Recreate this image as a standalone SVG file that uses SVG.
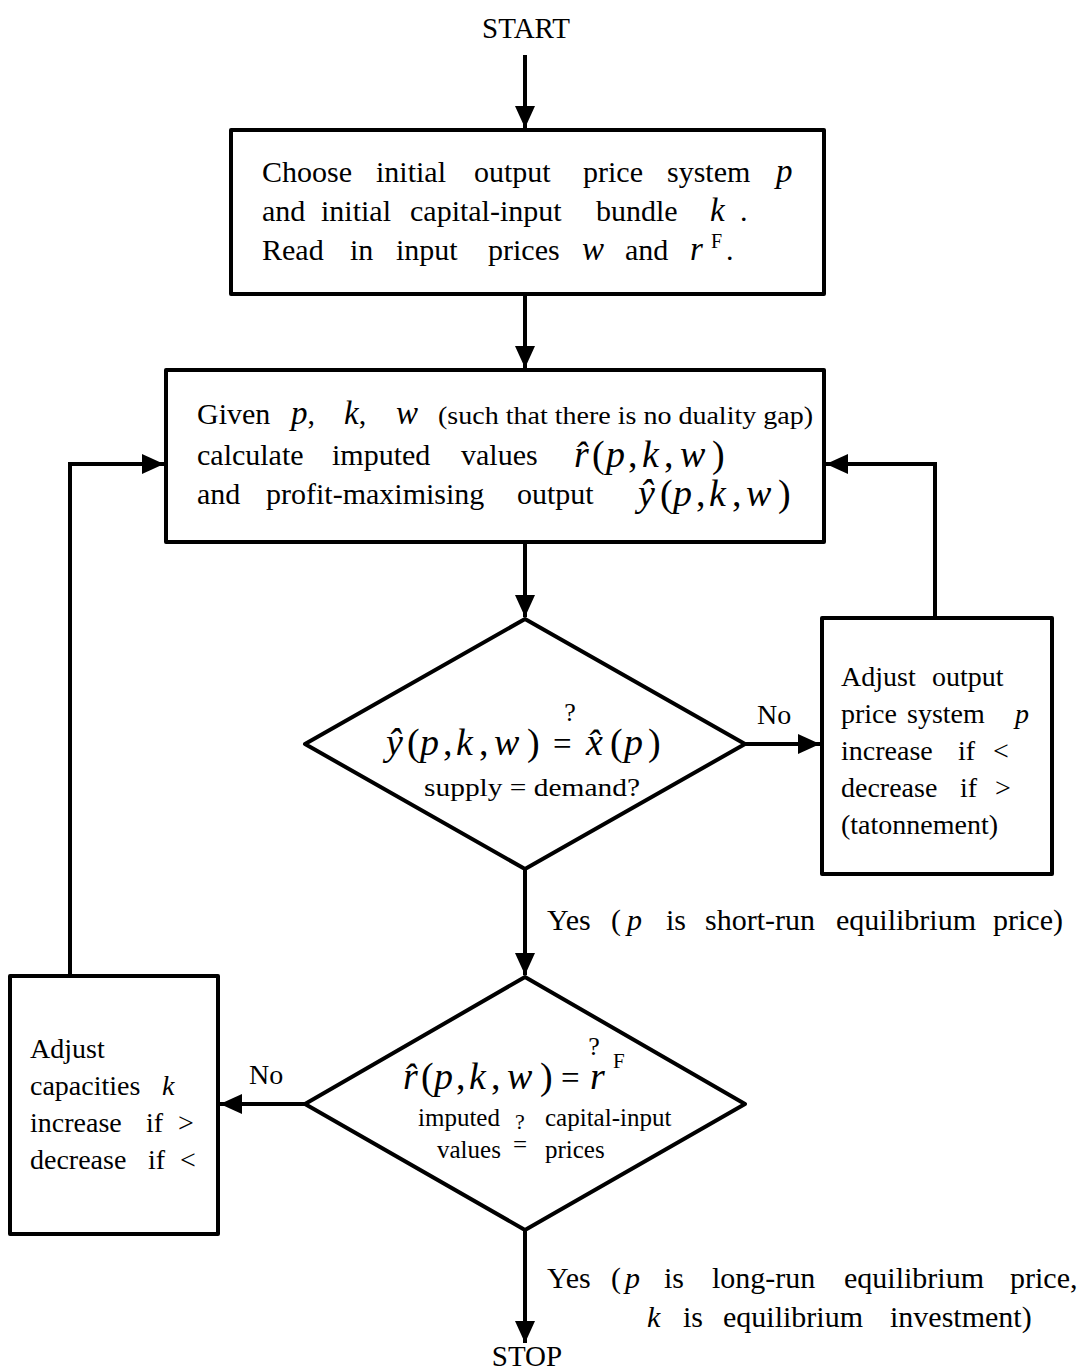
<svg xmlns="http://www.w3.org/2000/svg" width="1086" height="1370" viewBox="0 0 1086 1370" font-family="'Liberation Serif', 'DejaVu Serif', serif">
<defs>
<style>
.box{fill:#fff;stroke:#000;stroke-width:4;stroke-linejoin:round}
.ln{fill:none;stroke:#000;stroke-width:4}
text{font-family:"Liberation Serif","DejaVu Serif",serif;fill:#000}
.t{font-size:30px}
.s{font-size:25px}
.r{font-size:28px}
.i{font-style:italic}
.m{font-size:38px}
</style>
<marker id="ah" markerUnits="userSpaceOnUse" markerWidth="24" markerHeight="24" viewBox="0 0 24 24" refX="22" refY="12" orient="auto">
<path d="M0,2 L22,12 L0,22 Z" fill="#000"/>
</marker>
</defs>
<rect width="1086" height="1370" fill="#fff"/>

<g id="connectors">
<line class="ln" x1="525" y1="55" x2="525" y2="128" marker-end="url(#ah)"/>
<line class="ln" x1="525" y1="294" x2="525" y2="368" marker-end="url(#ah)"/>
<line class="ln" x1="525" y1="542" x2="525" y2="617" marker-end="url(#ah)"/>
<line class="ln" x1="745" y1="744" x2="820" y2="744" marker-end="url(#ah)"/>
<polyline class="ln" points="935,618 935,464 826,464" marker-end="url(#ah)"/>
<polyline class="ln" points="70,976 70,464 164,464" marker-end="url(#ah)"/>
<line class="ln" x1="525" y1="869" x2="525" y2="975" marker-end="url(#ah)"/>
<line class="ln" x1="305" y1="1104" x2="220" y2="1104" marker-end="url(#ah)"/>
<line class="ln" x1="525" y1="1230" x2="525" y2="1343" marker-end="url(#ah)"/>
<text class="r" x="757" y="724">No</text>
<text class="r" x="249" y="1084">No</text>
<text class="t" y="930"><tspan x="547">Yes</tspan><tspan x="611">(</tspan><tspan x="627" class="i">p</tspan><tspan x="666">is</tspan><tspan x="705">short-run</tspan><tspan x="836">equilibrium</tspan><tspan x="993">price)</tspan></text>
<text class="t" y="1288"><tspan x="547">Yes</tspan><tspan x="611">(</tspan><tspan x="625" class="i">p</tspan><tspan x="664">is</tspan><tspan x="712">long-run</tspan><tspan x="844">equilibrium</tspan><tspan x="1010">price,</tspan></text>
<text class="t" y="1327"><tspan x="647" class="i">k</tspan><tspan x="683">is</tspan><tspan x="723">equilibrium</tspan><tspan x="890">investment)</tspan></text>
</g>

<g id="start"><text x="526" y="38" font-size="29" text-anchor="middle">START</text></g>
<g id="stop"><text x="527" y="1366" font-size="29" text-anchor="middle">STOP</text></g>

<g id="init">
<rect class="box" x="231" y="130" width="593" height="164"/>
<text class="t" y="182"><tspan x="262">Choose</tspan><tspan x="376">initial</tspan><tspan x="474">output</tspan><tspan x="583">price</tspan><tspan x="667">system</tspan><tspan x="776" class="i" font-size="33">p</tspan></text>
<text class="t" y="221"><tspan x="262">and</tspan><tspan x="321">initial</tspan><tspan x="410">capital-input</tspan><tspan x="596">bundle</tspan><tspan x="710" class="i" font-size="33">k</tspan><tspan x="740">.</tspan></text>
<text class="t" y="260"><tspan x="262">Read</tspan><tspan x="350">in</tspan><tspan x="396">input</tspan><tspan x="488">prices</tspan><tspan x="582" class="i" font-size="33">w</tspan><tspan x="625">and</tspan><tspan x="690" class="i" font-size="33">r</tspan><tspan x="711" y="248" font-size="20">F</tspan><tspan x="726" y="260">.</tspan></text>
</g>

<g id="given">
<rect class="box" x="166" y="370" width="658" height="172"/>
<text class="t" y="424"><tspan x="197">Given</tspan><tspan x="291" class="i" font-size="33">p</tspan><tspan>,</tspan><tspan x="344" class="i" font-size="33">k</tspan><tspan>,</tspan><tspan x="396" class="i" font-size="33">w</tspan></text>
<text x="438" y="424" font-size="25" textLength="375" lengthAdjust="spacingAndGlyphs">(such that there is no duality gap)</text>
<text class="t" y="465"><tspan x="197">calculate</tspan><tspan x="332">imputed</tspan><tspan x="461">values</tspan></text>
<text class="m" y="467"><tspan x="574" class="i">r&#x302;</tspan><tspan x="592">(</tspan><tspan x="606" class="i">p</tspan><tspan x="628">,</tspan><tspan x="642" class="i">k</tspan><tspan x="664">,</tspan><tspan x="680" class="i">w</tspan><tspan x="712">)</tspan></text>
<text class="t" y="504"><tspan x="197">and</tspan><tspan x="266">profit-maximising</tspan><tspan x="517">output</tspan></text>
<text class="m" y="506"><tspan x="638" class="i">ŷ</tspan><tspan x="660">(</tspan><tspan x="673" class="i">p</tspan><tspan x="696">,</tspan><tspan x="709" class="i">k</tspan><tspan x="732">,</tspan><tspan x="746" class="i">w</tspan><tspan x="778">)</tspan></text>
</g>

<g id="supply-demand">
<polygon class="box" points="525,619 745,744 525,869 305,744"/>
<text class="m" y="755"><tspan x="386" class="i">ŷ</tspan><tspan x="407">(</tspan><tspan x="420" class="i">p</tspan><tspan x="443">,</tspan><tspan x="456" class="i">k</tspan><tspan x="479">,</tspan><tspan x="494" class="i">w</tspan><tspan x="527">)</tspan><tspan x="553" font-size="33">=</tspan><tspan x="570" y="721" font-size="26" text-anchor="middle">?</tspan><tspan x="586" y="755" class="i">x&#x302;</tspan><tspan x="610">(</tspan><tspan x="624" class="i">p</tspan><tspan x="648">)</tspan></text>
<text x="424" y="796" font-size="25" textLength="216" lengthAdjust="spacingAndGlyphs">supply = demand?</text>
</g>

<g id="adjust-price">
<rect class="box" x="822" y="618" width="230" height="256"/>
<text class="r" y="686"><tspan x="841">Adjust</tspan><tspan x="932">output</tspan></text>
<text class="r" y="723"><tspan x="841">price</tspan><tspan x="907">system</tspan><tspan x="1015" class="i">p</tspan></text>
<text class="r" y="760"><tspan x="841">increase</tspan><tspan x="958">if</tspan><tspan x="993">&lt;</tspan></text>
<text class="r" y="797"><tspan x="841">decrease</tspan><tspan x="960">if</tspan><tspan x="995">&gt;</tspan></text>
<text class="r" x="841" y="834">(tatonnement)</text>
</g>

<g id="capital-check">
<polygon class="box" points="525,977 745,1104 525,1230 305,1104"/>
<text class="m" y="1089"><tspan x="403" class="i">r&#x302;</tspan><tspan x="421">(</tspan><tspan x="434" class="i">p</tspan><tspan x="456">,</tspan><tspan x="469" class="i">k</tspan><tspan x="491">,</tspan><tspan x="507" class="i">w</tspan><tspan x="540">)</tspan><tspan x="561" font-size="33">=</tspan><tspan x="594" y="1055" font-size="26" text-anchor="middle">?</tspan><tspan x="590" y="1089" class="i">r</tspan><tspan x="613" y="1068" font-size="21">F</tspan></text>
<text class="s" y="1126"><tspan x="418">imputed</tspan><tspan x="545">capital-input</tspan></text>
<text class="s" y="1158"><tspan x="437">values</tspan><tspan x="545">prices</tspan></text>
<text text-anchor="middle"><tspan x="520" y="1129" font-size="22">?</tspan><tspan x="520" y="1153" font-size="25">=</tspan></text>
</g>

<g id="adjust-capacities">
<rect class="box" x="10" y="976" width="208" height="258"/>
<text class="r" x="30" y="1058">Adjust</text>
<text class="r" y="1095"><tspan x="30">capacities</tspan><tspan x="162" class="i">k</tspan></text>
<text class="r" y="1132"><tspan x="30">increase</tspan><tspan x="146">if</tspan><tspan x="178">&gt;</tspan></text>
<text class="r" y="1169"><tspan x="30">decrease</tspan><tspan x="148">if</tspan><tspan x="180">&lt;</tspan></text>
</g>
</svg>
